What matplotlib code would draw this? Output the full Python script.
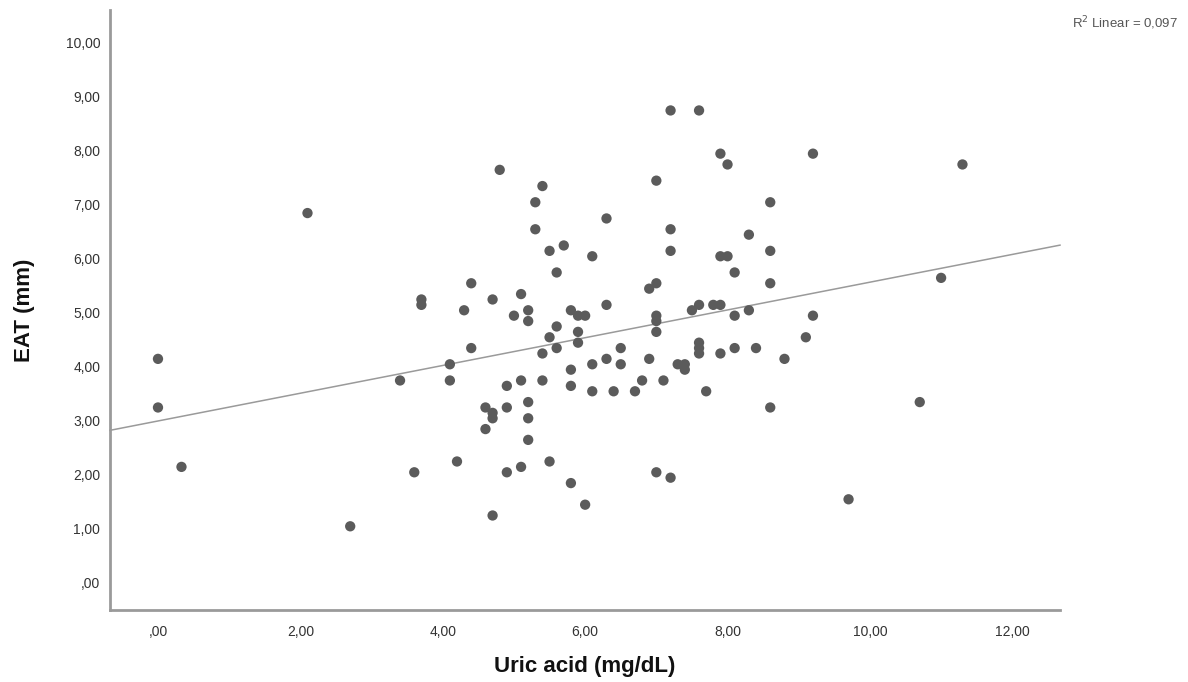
import matplotlib
matplotlib.use("Agg")
import matplotlib.pyplot as plt
import numpy as np

# Data
uric_acid = [0.0, 0.0, 0.33, 2.1, 2.7, 3.4, 3.6, 3.7, 3.7, 4.1, 4.1, 4.2, 4.3, 4.4, 4.4,
             4.6, 4.6, 4.7, 4.7, 4.7, 4.7, 4.8, 4.9, 4.9, 4.9, 5.0, 5.1, 5.1, 5.1,
             5.2, 5.2, 5.2, 5.2, 5.2, 5.3, 5.3, 5.4, 5.4, 5.4, 5.5, 5.5, 5.5,
             5.6, 5.6, 5.6, 5.7, 5.8, 5.8, 5.8, 5.8, 5.9, 5.9, 5.9, 6.0, 6.0,
             6.1, 6.1, 6.1, 6.3, 6.3, 6.3, 6.4, 6.5, 6.5, 6.7, 6.8, 6.9, 6.9,
             7.0, 7.0, 7.0, 7.0, 7.0, 7.0, 7.1, 7.2, 7.2, 7.2, 7.2, 7.3, 7.4, 7.4,
             7.5, 7.6, 7.6, 7.6, 7.6, 7.6, 7.7, 7.8, 7.9, 7.9, 7.9, 7.9, 8.0, 8.0,
             8.1, 8.1, 8.1, 8.3, 8.3, 8.4, 8.6, 8.6, 8.6, 8.6, 8.8, 9.1, 9.2, 9.2,
             9.7, 10.7, 11.0, 11.3]
eat_mm = [4.15, 3.25, 2.15, 6.85, 1.05, 3.75, 2.05, 5.25, 5.15, 4.05, 3.75, 2.25, 5.05, 5.55, 4.35,
          3.25, 2.85, 5.25, 3.15, 3.05, 1.25, 7.65, 3.65, 3.25, 2.05, 4.95, 5.35, 3.75, 2.15,
          5.05, 4.85, 3.35, 3.05, 2.65, 7.05, 6.55, 7.35, 4.25, 3.75, 6.15, 4.55, 2.25,
          5.75, 4.75, 4.35, 6.25, 5.05, 3.95, 3.65, 1.85, 4.95, 4.65, 4.45, 4.95, 1.45,
          6.05, 4.05, 3.55, 6.75, 5.15, 4.15, 3.55, 4.35, 4.05, 3.55, 3.75, 5.45, 4.15,
          7.45, 5.55, 4.95, 4.85, 4.65, 2.05, 3.75, 8.75, 6.55, 6.15, 1.95, 4.05, 4.05, 3.95,
          5.05, 8.75, 5.15, 4.45, 4.35, 4.25, 3.55, 5.15, 7.95, 6.05, 5.15, 4.25, 7.75, 6.05,
          5.75, 4.95, 4.35, 6.45, 5.05, 4.35, 7.05, 6.15, 5.55, 3.25, 4.15, 4.55, 7.95, 4.95,
          1.55, 3.35, 5.65, 7.75]

# Fit line
fit_intercept = 3.0
fit_slope = 0.257
r2_text = "0,097"

x_ticks = [0, 2, 4, 6, 8, 10, 12]
x_tick_labels = [",00", "2,00", "4,00", "6,00", "8,00", "10,00", "12,00"]
y_ticks = [0, 1, 2, 3, 4, 5, 6, 7, 8, 9, 10]
y_tick_labels = [",00", "1,00", "2,00", "3,00", "4,00", "5,00", "6,00", "7,00", "8,00", "9,00", "10,00"]

plt.rcParams['font.family'] = ['Liberation Sans', 'DejaVu Sans']

fig = plt.figure(figsize=(11.88, 6.82), dpi=100)
ax = fig.add_axes([110/1188, 1 - 610/682, 950/1188, 600/682])

xmin, xmax = -0.674, 12.67
ax.set_xlim(xmin, xmax)
ax.set_ylim(-0.5, 10.61)

xs = np.array([xmin, xmax])
ax.plot(xs, fit_intercept + fit_slope * xs, color='#9a9a9a', lw=1.1, zorder=2, clip_on=False)

ax.scatter(uric_acid, eat_mm, s=55, color='#5b5b5b', edgecolors='none', zorder=3)

ax.set_xticks(x_ticks)
ax.set_xticklabels(x_tick_labels)
ax.set_yticks(y_ticks)
ax.set_yticklabels(y_tick_labels)
ax.tick_params(axis='both', length=0, labelsize=10, colors='#333333')
ax.tick_params(axis='x', pad=11)
ax.tick_params(axis='y', pad=7)

for s in ['top', 'right']:
    ax.spines[s].set_visible(False)
for s in ['left', 'bottom']:
    ax.spines[s].set_color('#9a9a9a')
    ax.spines[s].set_linewidth(2)

ax.set_xlabel("Uric acid (mg/dL)", fontsize=16, fontweight='bold', color='#111111', labelpad=12)
ax.set_ylabel("EAT (mm)", fontsize=16, fontweight='bold', color='#111111', labelpad=22)

fig.text(1178/1188, 1 - 23/682, r"R$^2$ Linear = " + r2_text, ha='right', va='center',
         fontsize=9.5, color='#555555')

fig.savefig("out.png", dpi=100)
